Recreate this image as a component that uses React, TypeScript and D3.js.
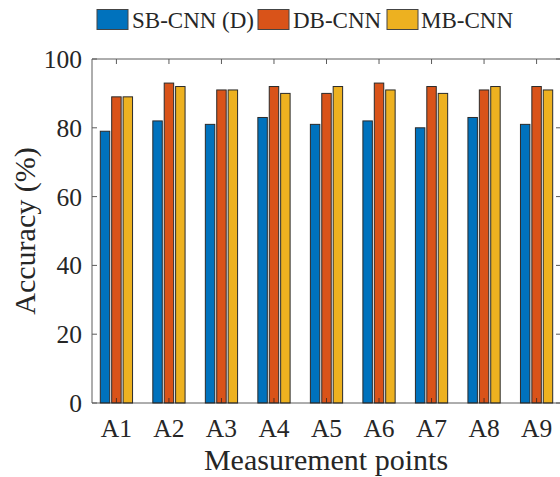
import React from "react";
import * as d3 from "d3";

const categories = ["A1", "A2", "A3", "A4", "A5", "A6", "A7", "A8", "A9"];
const seriesNames = ["SB-CNN (D)", "DB-CNN", "MB-CNN"];
const sbCnn = [79, 82, 81, 83, 81, 82, 80, 83, 81];
const dbCnn = [89, 93, 91, 92, 90, 93, 92, 91, 92];
const mbCnn = [89, 92, 91, 90, 92, 91, 90, 92, 91];
const yTicks = [0, 20, 40, 60, 80, 100];
const colors = ["#0072BD", "#D95319", "#EDB120"];

const W = 560;
const H = 477;
const margin = { left: 92, top: 59, right: 561, bottom: 403 };
const font = "'Liberation Serif', 'Times New Roman', serif";

export default function App() {
  const series = [sbCnn, dbCnn, mbCnn];
  const x = d3.scaleLinear().domain([1 - 0.465, 9 + 0.465]).range([margin.left, margin.right]);
  const y = d3.scaleLinear().domain([0, 100]).range([margin.bottom, margin.top]);
  const unit = x(2) - x(1);
  const barW = 0.18 * unit;
  const offsets = [-0.217, 0, 0.217];
  const axisColor = "#262626";

  const legendItems = [
    { sx: 97, tx: 132 },
    { sx: 258, tx: 293 },
    { sx: 387, tx: 421 },
  ];

  return (
    <svg width={W} height={H} style={{ position: "absolute", left: 0, top: 0 }}>
      <rect x={0} y={0} width={W} height={H} fill="#fff" />
      {/* bars */}
      {series.map((vals, s) =>
        vals.map((v, i) => {
          const cx = x(i + 1) + offsets[s] * unit;
          return (
            <rect
              key={`${s}-${i}`}
              x={cx - barW / 2}
              y={y(v)}
              width={barW}
              height={y(0) - y(v)}
              fill={colors[s]}
              stroke="#2a2a2a"
              strokeWidth={1}
            />
          );
        })
      )}
      {/* axes box */}
      <g stroke={axisColor} strokeWidth={1} fill="none" opacity={0.75}>
        <line x1={margin.left} x2={margin.right} y1={margin.top} y2={margin.top} />
        <line x1={margin.left} x2={margin.right} y1={margin.bottom} y2={margin.bottom} />
        <line x1={margin.left} x2={margin.left} y1={margin.top} y2={margin.bottom} />
        <line x1={margin.right} x2={margin.right} y1={margin.top} y2={margin.bottom} />
        {yTicks.map((t) => (
          <g key={t}>
            <line x1={margin.left} x2={margin.left + 5} y1={y(t)} y2={y(t)} />
            <line x1={margin.right} x2={margin.right - 5} y1={y(t)} y2={y(t)} />
          </g>
        ))}
        {categories.map((c, i) => (
          <g key={c}>
            <line x1={x(i + 1)} x2={x(i + 1)} y1={margin.bottom} y2={margin.bottom - 5} />
            <line x1={x(i + 1)} x2={x(i + 1)} y1={margin.top} y2={margin.top + 5} />
          </g>
        ))}
      </g>
      {/* y tick labels */}
      {yTicks.map((t) => (
        <text
          key={t}
          x={margin.left - 10}
          y={y(t)}
          dy="0.35em"
          textAnchor="end"
          fontFamily={font}
          fontSize={25.5}
          fill="#262626"
        >
          {t}
        </text>
      ))}
      {/* x tick labels */}
      {categories.map((c, i) => (
        <text
          key={c}
          x={x(i + 1)}
          y={437}
          textAnchor="middle"
          fontFamily={font}
          fontSize={25.5}
          fill="#262626"
        >
          {c}
        </text>
      ))}
      <text
        x={326}
        y={470}
        textAnchor="middle"
        fontFamily={font}
        fontSize={30}
        fill="#262626"
      >
        Measurement points
      </text>
      <text
        transform={`translate(35,${(margin.top + margin.bottom) / 2}) rotate(-90)`}
        textAnchor="middle"
        fontFamily={font}
        fontSize={30}
        fill="#262626"
      >
        Accuracy (%)
      </text>
      {/* legend */}
      {legendItems.map((l, s) => (
        <g key={s}>
          <rect x={l.sx} y={9.5} width={31} height={20} fill={colors[s]} stroke="#444" strokeWidth={1} />
          <text x={l.tx} y={28} fontFamily={font} fontSize={23} fill="#262626">
            {seriesNames[s]}
          </text>
        </g>
      ))}
    </svg>
  );
}
